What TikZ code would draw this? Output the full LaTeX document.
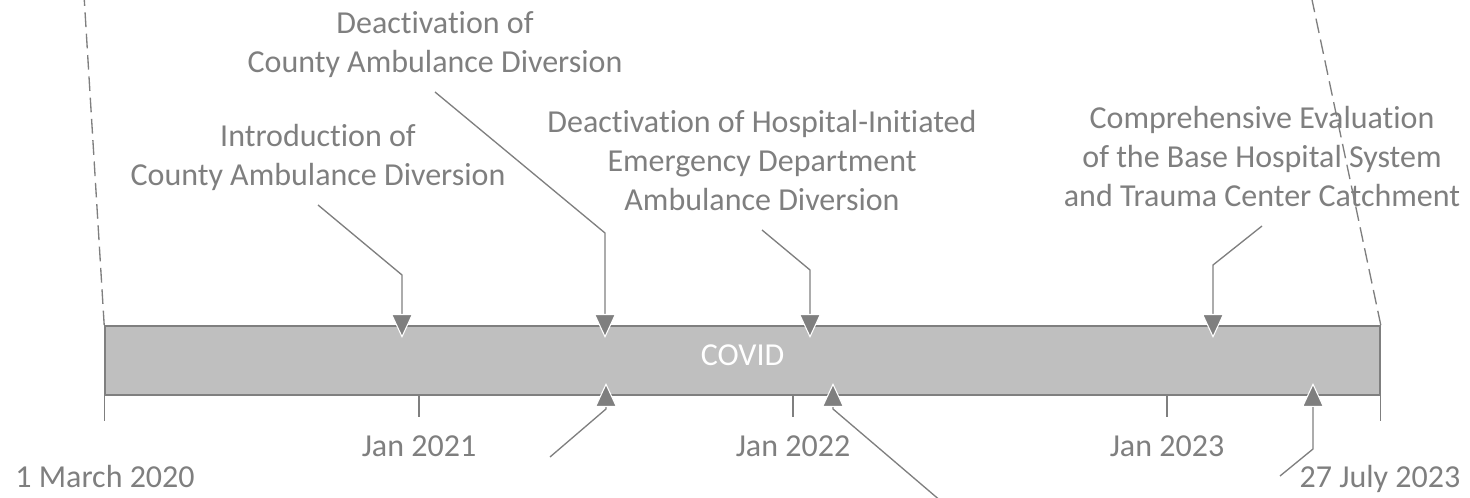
\documentclass[tikz,border=0pt]{standalone}
\usepackage{fontspec}
\setmainfont[Ligatures=NoCommon]{Carlito}
\usetikzlibrary{arrows.meta}
\definecolor{linegray}{HTML}{7F7F7F}
\definecolor{bargray}{HTML}{BFBFBF}
\tikzset{
	lbl/.style={font=\fontsize{24}{29.3}\selectfont, text=linegray, align=center, inner sep=0pt, outer sep=6pt, execute at end node=\strut},
	datelbl/.style={font=\fontsize{24}{29.3}\selectfont, text=linegray, inner sep=0pt},
	pointer/.style={draw=linegray, line width=1pt, -{Triangle[width=16.5pt, length=18pt, fill=linegray, color=white, line width=0.8pt]}},
	tick/.style={draw=linegray, line width=1pt},
	zoomline/.style={draw=linegray, line width=1pt, dash pattern=on 11pt off 5pt},
}

\begin{document}
\begin{tikzpicture}[x=0.75pt, y=-0.75pt]
		%%%%% START %%%%%
		\useasboundingbox (0, 0) rectangle (1470, 498);
		
		\node[draw=linegray, fill=bargray, line width=1.2pt, minimum width=956.25pt, minimum height=51.75pt, inner sep=0pt, text=white, font=\fontsize{24}{29.3}\selectfont, text height=15pt, text depth=7pt] (covid) at (742.5, 360.5) {COVID};
		
		\draw[zoomline] (covid.north west) -- (84, -5);
		\draw[zoomline] (covid.north east) -- (1311, -5);
		
		\draw[tick] (covid.south west) -- ++(0, 25);
		\draw[tick] (covid.south east) -- ++(0, 25);
		\draw[tick] (419, 395) -- (419, 417);
		\draw[tick] (793, 395) -- (793, 417);
		\draw[tick] (1167, 395) -- (1167, 417);
		
		\node[datelbl, anchor=base] (jan21) at (419, 457) {Jan 2021};
		\node[datelbl, anchor=base] (jan22) at (793, 457) {Jan 2022};
		\node[datelbl, anchor=base] (jan23) at (1167, 457) {Jan 2023};
		\node[datelbl, anchor=base] (start) at (105, 488) {1 March 2020};
		\node[datelbl, anchor=base] (end) at (1380, 488) {27 July 2023};
		
		\node[lbl, anchor=south] (intro) at (318, 205) {Introduction of\\County Ambulance Diversion};
		\node[lbl, anchor=south] (deactcounty) at (435, 92) {Deactivation of\\County Ambulance Diversion};
		\node[lbl, anchor=south] (deacthosp) at (762, 230) {Deactivation of Hospital-Initiated\\Emergency Department\\Ambulance Diversion};
		\node[lbl, anchor=south] (evaluation) at (1262, 226) {Comprehensive Evaluation\\of the Base Hospital System\\and Trauma Center Catchment};
		
		\draw[pointer] (intro.south) -- (402, 275) -- (402, 338);
		\draw[pointer] (deactcounty.south) -- (605, 233) -- (605, 338);
		\draw[pointer] (deacthosp.south) -- (810, 270) -- (810, 338);
		\draw[pointer] (evaluation.south) -- (1213, 265) -- (1213, 338);
		
		\coordinate (low1) at (550, 457);
		\coordinate (low2) at (942, 502);
		\coordinate (low3) at (1280, 476);
		\draw[pointer] (low1) -- (606, 409) -- (606, 383);
		\draw[pointer] (low2) -- (833, 409) -- (833, 383);
		\draw[pointer] (low3) -- (1313, 449) -- (1313, 383);
		%%%%% END %%%%%
\end{tikzpicture}
\end{document}
